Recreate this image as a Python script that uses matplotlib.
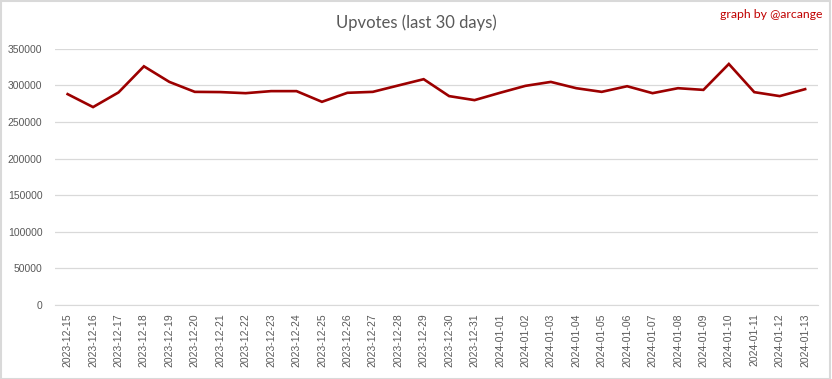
import matplotlib
matplotlib.use("Agg")
import matplotlib.pyplot as plt
from matplotlib.patches import Rectangle

# Daily upvotes
dates = [
    "2023-12-15", "2023-12-16", "2023-12-17", "2023-12-18", "2023-12-19",
    "2023-12-20", "2023-12-21", "2023-12-22", "2023-12-23", "2023-12-24",
    "2023-12-25", "2023-12-26", "2023-12-27", "2023-12-28", "2023-12-29",
    "2023-12-30", "2023-12-31", "2024-01-01", "2024-01-02", "2024-01-03",
    "2024-01-04", "2024-01-05", "2024-01-06", "2024-01-07", "2024-01-08",
    "2024-01-09", "2024-01-10", "2024-01-11", "2024-01-12", "2024-01-13",
]
upvotes = [
    288200, 270500, 290500, 326200, 304900,
    291300, 291000, 289500, 292300, 292300,
    277700, 290000, 291300, 300000, 308600,
    285500, 280000, 290000, 299500, 304900,
    296300, 291300, 299000, 289500, 296300,
    294000, 329400, 290900, 285500, 295000,
]
y_ticks = [0, 50000, 100000, 150000, 200000, 250000, 300000, 350000]

text_color = "#595959"
grid_color = "#d9d9d9"

plt.rcParams["font.family"] = ["Liberation Sans", "DejaVu Sans"]

fig = plt.figure(figsize=(8.32, 3.79), dpi=100)
ax = fig.add_axes([0.066, 0.195, 0.917, 0.676])

x = list(range(len(dates)))
ax.plot(x, upvotes, color="#9c0000", linewidth=1.9, solid_joinstyle="miter")

ax.set_xlim(-0.5, len(dates) - 0.5)
ax.set_ylim(0, 350000)
ax.set_yticks(y_ticks)
ax.set_yticklabels([str(v) for v in y_ticks])
ax.set_xticks(x)
ax.set_xticklabels(dates, rotation=90)

ax.grid(axis="y", color=grid_color, linewidth=0.9)
ax.set_axisbelow(True)
for side in ["top", "right", "left"]:
    ax.spines[side].set_visible(False)
ax.spines["bottom"].set_color(grid_color)
ax.tick_params(axis="both", length=0, labelsize=7.5, colors=text_color)
ax.tick_params(axis="y", pad=9)
ax.tick_params(axis="x", pad=6)

fig.text(0.5, 0.94, "Upvotes (last 30 days)", ha="center", va="center",
         fontsize=12, color=text_color, family=["Lato", "DejaVu Sans"])
fig.text(0.988, 0.962, "graph by @arcange", ha="right", va="center",
         fontsize=8.8, color="#c00000", family=["Lato", "DejaVu Sans"])

# light frame around the whole chart
fig.patches.append(Rectangle((0.001, 0.001), 0.997, 0.996, transform=fig.transFigure,
                             fill=False, edgecolor="#d9d9d9", linewidth=1.5))

fig.savefig("out.png", dpi=100)
